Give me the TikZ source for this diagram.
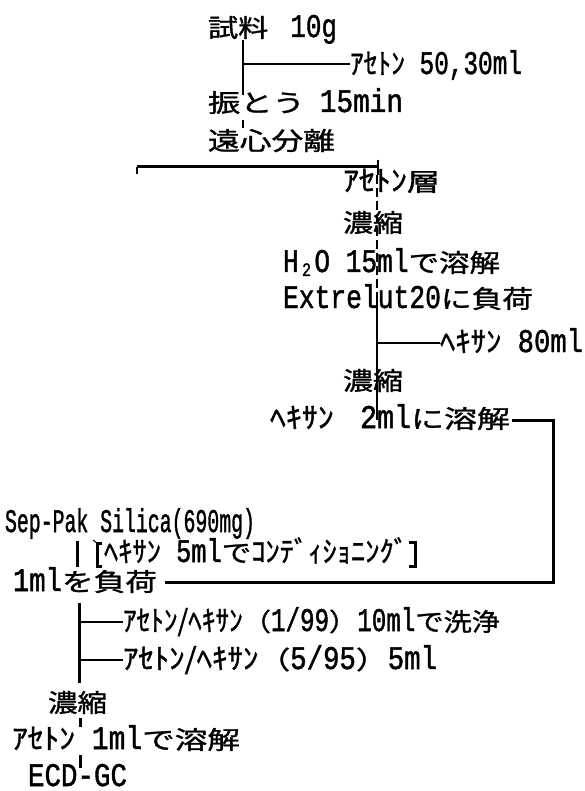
\documentclass[tikz,border=0pt]{standalone}
\usepackage{fontspec}
\usepackage{graphicx}
\setmainfont{Liberation Mono}[UprightFeatures={FakeBold=1.5}]
\newfontfamily\jpfont{Noto Sans CJK JP}[UprightFeatures={FakeBold=1.1}]
% CJK run (wide, as in the scan)
\newcommand{\J}[1]{\scalebox{1.2}[1]{\jpfont\fontsize{25}{25}\selectfont #1}}
% half-width katakana run
\newcommand{\K}[1]{{\jpfont\fontsize{29}{29}\selectfont #1}}
% Latin run (tall and narrow)
\newcommand{\Lt}[1]{\scalebox{0.78}[1]{\fontsize{33}{33}\selectfont #1}}
\newcommand{\subtwo}{\makebox[0.6em]{\raisebox{-0.12em}{\fontsize{19}{19}\selectfont 2}}}
\newcommand{\fitw}[2]{\raisebox{0pt}[\height][0pt]{\resizebox{#1pt}{\height}{#2}}}
\tikzset{
  lbl/.style={anchor=base west, inner sep=0pt, outer sep=0pt},
  heavy/.style={line width=3pt},
  medium/.style={line width=2.2pt},
  thinl/.style={line width=1.3pt},
}
\begin{document}
\begin{tikzpicture}[x=1pt,y=-1pt]
\path[use as bounding box, fill=white] (0,0) rectangle (585,791);
% text nodes
\node[lbl] (n1) at (208,37) {\fitw{129}{\J{試料}\hspace{22pt}\Lt{10g}}};
\node[lbl] (n2) at (350,74) {\fitw{172}{\K{ｱｾﾄﾝ}\Lt{ 50,30ml}}};
\node[lbl] (n3) at (208,112) {\fitw{195}{\J{振とう}\hspace{14pt}\Lt{15min}}};
\node[lbl] (n4) at (208,150) {\fitw{127}{\J{遠心分離}}};
\node[lbl] (n5) at (343,191) {\fitw{97}{\K{ｱｾﾄﾝ}\J{層}}};
\node[lbl] (n6) at (343,232) {\fitw{60}{\J{濃縮}}};
\node[lbl] (n7) at (283,272) {\fitw{217}{\Lt{H\subtwo O 15ml}\J{で溶解}}};
\node[lbl] (n8) at (283,308) {\fitw{250}{\Lt{Extrelut20}\J{に負荷}}};
\node[lbl] (n9) at (440,352) {\fitw{143}{\K{ﾍｷｻﾝ}\Lt{ 80ml}}};
\node[lbl] (n10) at (343,390) {\fitw{60}{\J{濃縮}}};
\node[lbl] (n11) at (270,428) {\fitw{240}{\K{ﾍｷｻﾝ}\hspace{24pt}\Lt{2ml}\J{に溶解}}};
\node[lbl] (n12) at (5,532) {\fitw{250}{\Lt{Sep-Pak Silica(690mg)}}};
\node[lbl] (n13) at (104,562) {\fitw{304}{\K{ﾍｷｻﾝ}\Lt{ 5ml}\J{で}\K{ｺﾝﾃﾞｨｼｮﾆﾝｸﾞ}}};
\node[lbl] (n14) at (13,591) {\fitw{144}{\Lt{1ml}\J{を負荷}}};
\node[lbl] (n15) at (123,631) {\fitw{377}{\K{ｱｾﾄﾝ/ﾍｷｻﾝ}\J{（}\Lt{1/99}\J{）}\Lt{10ml}\J{で洗浄}}};
\node[lbl] (n16) at (123,669) {\fitw{314}{\K{ｱｾﾄﾝ/ﾍｷｻﾝ}\J{（}\Lt{5/95}\J{）}\Lt{5ml}}};
\node[lbl] (n17) at (48,712) {\fitw{59}{\J{濃縮}}};
\node[lbl] (n18) at (12,749) {\fitw{228}{\K{ｱｾﾄﾝ}\Lt{ 1ml}\J{で溶解}}};
\node[lbl] (n19) at (28,786) {\fitw{99}{\Lt{ECD-GC}}};
% junction coordinates
\coordinate (a1) at (243,40);
\coordinate (a2) at (243,95);
\coordinate (j1) at (243,64);
\coordinate (t1a) at (243,120);
\coordinate (t1b) at (243,128);
\coordinate (hL) at (137,167);
\coordinate (hR) at (378,167);
\coordinate (v2a) at (377,175);
\coordinate (v2b) at (377,300);
\coordinate (v2c) at (377,420);
\coordinate (j2) at (377,343);
\coordinate (r1) at (512,420);
\coordinate (r2) at (553,420);
\coordinate (r3) at (553,582);
\coordinate (r4) at (165,582);
\coordinate (s1) at (77,541);
\coordinate (s2) at (77,567);
\coordinate (m1) at (79,603);
\coordinate (m2) at (79,683);
\coordinate (j3) at (79,622);
\coordinate (j4) at (79,660);
\coordinate (k1) at (80,718);
\coordinate (k2) at (80,727);
\coordinate (k3) at (80,755);
\coordinate (k4) at (80,768);
% connectors
\draw[medium] (a1) -- (a2);
\draw[medium] (j1) -- (j1 -| n2.west);
\draw[medium] (t1a) -- (t1b);
\draw[heavy] (hL) -- (hR);
\draw[medium] (hL) -- ++(0,7);
\draw[thinl] (hR) ++(0,-7) -- ++(0,15);
\draw[thinl, dash pattern=on 9pt off 4pt] (v2a) -- (v2b);
\draw[thinl] (v2b) -- (v2c);
\draw[medium] (j2) -- (j2 -| n9.west);
\draw[heavy] (r1) -- (r2) -- (r3) -- (r4);
\draw[heavy] (s1) -- (s2);
\draw[heavy] (m1) -- (m2);
\draw[medium] (j3) -- (j3 -| n15.west);
\draw[medium] (j4) -- (j4 -| n16.west);
\draw[heavy] (k1) -- (k2);
\draw[heavy] (k3) -- (k4);
% brackets
\draw[heavy] (102,543) -- (97,543) -- (97,566) -- (102,566);
\draw[line width=1pt] (97,543) -- (93,540);
\draw[heavy] (409,542) -- (415,542) -- (415,566) -- (409,566);
\end{tikzpicture}
\end{document}
